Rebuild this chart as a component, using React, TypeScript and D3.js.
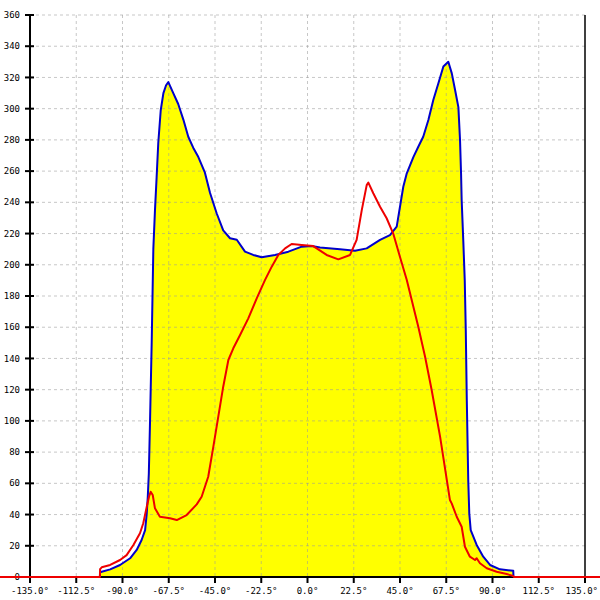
import React from "react";
import * as d3 from "d3";

const xTicks = [-135, -112.5, -90, -67.5, -45, -22.5, 0, 22.5, 45, 67.5, 90, 112.5, 135];
const yTicks = [0, 20, 40, 60, 80, 100, 120, 140, 160, 180, 200, 220, 240, 260, 280, 300, 320, 340, 360];

const blueAngles = [-101, -100.9, -100.1, -96, -91.2, -86.3, -83.1, -80.7, -79, -78.2, -77.7, -77.2, -76.6, -75.8, -75, -74.2, -73.4, -72.6, -71.4, -70.1, -68.8, -67.7, -65.3, -62.9, -60.4, -58, -55.6, -53.1, -49.9, -47.4, -44.2, -41, -37.7, -34.4, -30.4, -26.4, -22.3, -15.8, -9.3, -2.8, 2, 6.1, 15.8, 23.1, 28.8, 35.3, 40.1, 43.4, 46.6, 48.3, 51.5, 53.9, 56.3, 58.8, 61.2, 63.6, 66.1, 68.5, 70.2, 71.8, 73.4, 74.2, 74.7, 75, 75.8, 76.5, 77, 77.5, 78.2, 78.7, 79.4, 82.3, 85.5, 88.8, 93.6, 100.1, 100.2];
const blueValues = [0, 3, 3.4, 4.9, 7.7, 12, 17.3, 23.7, 30, 40.8, 51.4, 66, 100, 150, 210, 235, 256, 278, 299, 310, 315, 317, 310, 303, 293, 282, 275, 269, 259, 246, 233, 222, 217, 216, 208.4, 206.3, 204.8, 206.3, 208.4, 211.6, 212, 211, 210, 209, 210.5, 216, 219, 224.4, 250, 258.6, 269, 275.6, 282, 292.7, 305.6, 316, 327, 330, 322.6, 312, 301, 280, 258.6, 241.5, 215, 190, 158, 113, 62, 40.8, 30, 20.5, 13, 7.7, 4.9, 4, 0];

const redAngles = [-150, -101, -100.9, -100.1, -96, -91.2, -88, -84.7, -81.5, -79.9, -78.2, -77.1, -76.3, -75.3, -74.2, -71.8, -66.9, -63.6, -58.8, -53.9, -51.5, -48.3, -45.8, -43.4, -41, -38.5, -36.1, -32.8, -28.8, -24.7, -20.7, -17.4, -14.2, -10.9, -7.7, -2.8, 2.8, 9.3, 15, 20.7, 23.9, 26.4, 28.8, 29.6, 32, 35.3, 38.5, 41.7, 45, 48.3, 53.9, 57.2, 60.4, 64.5, 69.3, 70.2, 72.6, 75, 76.6, 79, 81.5, 82.3, 83.9, 87.2, 92, 96.9, 100.1, 100.5, 150];
const redValues = [0, 0, 5, 6.2, 7.7, 10.9, 14, 20.5, 28, 34.4, 45, 51.4, 54.6, 52.5, 44, 38.6, 37.6, 36.5, 39.7, 46.5, 51.4, 64.2, 83.5, 102.7, 121.9, 139, 146.5, 155, 165.7, 178.5, 190.2, 198.8, 206.3, 210.5, 213.3, 212.7, 212, 206.3, 203.5, 206.3, 216, 235, 251, 252.6, 245.8, 237.2, 229.8, 220, 205, 190.2, 160.3, 141.1, 119.8, 89.9, 49.3, 47, 38.6, 32.2, 19.4, 13, 10.9, 12, 8.8, 5.6, 3.4, 1.9, 0.6, 0, 0];

export default function App() {
  const W = 600, H = 600;
  const left = 30, right = 585, top = 15, bottom = 577;
  const x = d3.scaleLinear().domain([-135, 135]).range([left, right]);
  const y = d3.scaleLinear().domain([0, 360]).range([bottom, top]);

  const blue = blueAngles.map((a, i) => [a, blueValues[i]] as [number, number]);
  const red = redAngles.map((a, i) => [a, redValues[i]] as [number, number]);

  const area = d3.area<[number, number]>().x(d => x(d[0])).y0(y(0)).y1(d => y(d[1]));
  const line = d3.line<[number, number]>().x(d => x(d[0])).y(d => y(d[1]));

  const font = "'DejaVu Sans Mono', monospace";
  const gridTicksX = xTicks.filter(t => t > -135 && t < 135);

  return (
    <svg width={W} height={H} style={{ position: "absolute", left: 0, top: 0, background: "#fff" }}>
      <path d={area(blue) || ""} fill="#ffff00" stroke="none" />
      {/* grid */}
      {yTicks.map(t => (
        <line key={"gy" + t} x1={left} x2={right} y1={y(t)} y2={y(t)} stroke="#999" strokeOpacity={0.55} strokeDasharray="3,3" />
      ))}
      {gridTicksX.map(t => (
        <line key={"gx" + t} x1={x(t)} x2={x(t)} y1={top} y2={bottom} stroke="#999" strokeOpacity={0.55} strokeDasharray="3,3" />
      ))}
      {/* axes */}
      <line x1={left} x2={left} y1={top} y2={bottom} stroke="#000" strokeWidth={2} />
      <line x1={right} x2={right} y1={top} y2={bottom} stroke="#000" strokeWidth={1.5} />
      <line x1={left} x2={right} y1={bottom} y2={bottom} stroke="#000" strokeWidth={2} />
      {yTicks.map(t => (
        <g key={"ty" + t}>
          <line x1={left - 5} x2={left + 4} y1={y(t)} y2={y(t)} stroke="#000" strokeWidth={2} />
          <text x={20} y={y(t)} dy="0.35em" textAnchor="end" fontFamily={font} fontSize={9} fill="#000">{t}</text>
        </g>
      ))}
      {xTicks.map(t => (
        <g key={"tx" + t}>
          <line x1={x(t)} x2={x(t)} y1={bottom - 1} y2={bottom + 6} stroke="#000" strokeWidth={2} />
          <text x={t === 135 ? 598 : x(t)} y={594} textAnchor={t === 135 ? "end" : "middle"} fontFamily={font} fontSize={9} fill="#000">{t.toFixed(1) + "°"}</text>
        </g>
      ))}
      <path d={line(blue) || ""} fill="none" stroke="#0000cc" strokeWidth={2} strokeLinejoin="round" />
      <path d={line(red) || ""} fill="none" stroke="#ee0000" strokeWidth={2} strokeLinejoin="round" />
    </svg>
  );
}
